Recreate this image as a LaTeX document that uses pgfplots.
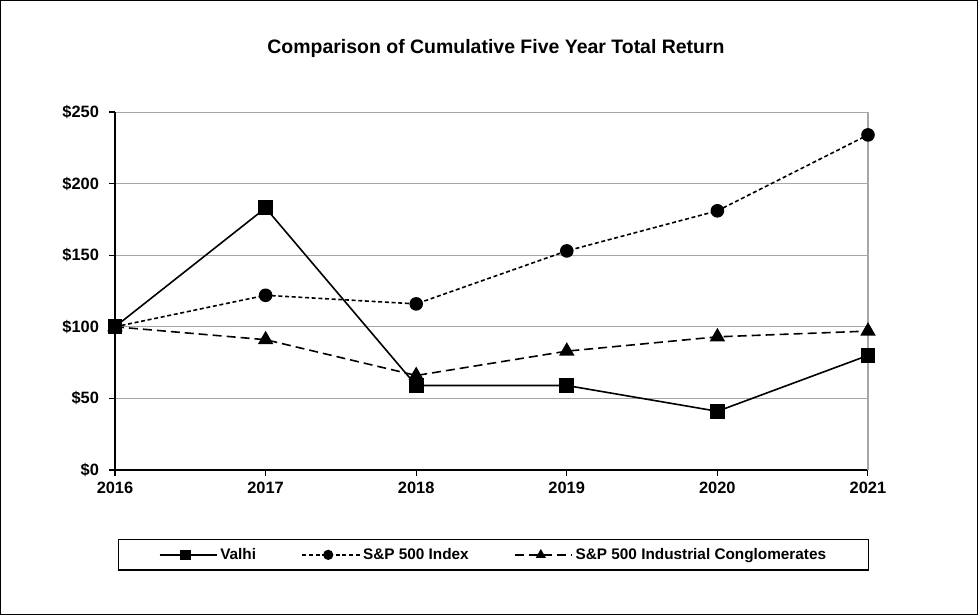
\documentclass[border=0pt]{standalone}
\usepackage{fontspec}
\setmainfont{Liberation Sans}
\usepackage{pgfplots}
\pgfplotsset{compat=1.18}
\begin{document}
\begin{tikzpicture}[x=0.75pt,y=0.75pt]
\useasboundingbox (0,0) rectangle (978,615);
\draw[black, line width=0.75pt] (0.5,0.5) rectangle (977.5,614.5);
\node[font=\bfseries\fontsize{14.6}{17}\selectfont] at (496,566.5) {Comparison of Cumulative Five Year Total Return};
\begin{axis}[
  at={(86.25pt,108.75pt)}, anchor=south west,
  scale only axis, width=564.75pt, height=268.5pt,
  xmin=2016, xmax=2021, ymin=0, ymax=250,
  axis x line=bottom, axis y line=left,
  axis line style={-, line width=1pt, black},
  xtick={2016,...,2021},
  xticklabels={2016,2017,2018,2019,2020,2021},
  ytick={0,50,100,150,200,250},
  yticklabels={\$0,\$50,\$100,\$150,\$200,\$250},
  tick align=outside, major tick length=4.5pt,
  tick style={black, line width=0.8pt},
  ymajorgrids, major grid style={gray!70, line width=0.6pt},
  tick label style={font=\bfseries\fontsize{12.3}{14}\selectfont},
  xticklabel style={yshift=-1pt},
  yticklabel style={xshift=-4pt},
  /pgf/number format/assume math mode=true,
  clip=false,
  legend columns=3,
  legend style={at={(0.503,-0.237)}, anchor=center, draw=black, line width=1pt,
    font=\bfseries\fontsize{11.5}{13}\selectfont, inner xsep=30pt, inner ysep=4.5pt,
    /tikz/every even column/.append style={column sep=32pt}},
  legend cell align=left,
  legend image code/.code={
    \path (0pt,0pt) -- (43pt,0pt);
    \draw[#1] (0pt,0pt) -- (39pt,0pt);
    \draw[#1, solid, mark size=3.2pt] plot coordinates {(19.5pt,0pt)};
  },
]
\draw[gray!70, line width=0.8pt] (axis cs:2021,0) -- (axis cs:2021,250);
\addplot[black, line width=1.2pt, mark=square*, mark size=5pt, mark options={solid}]
  coordinates {(2016,100) (2017,183) (2018,59) (2019,59) (2020,41) (2021,80)};
\addlegendentry{Valhi}
\addplot[black, line width=1.2pt, dash pattern=on 3pt off 2pt, mark=*, mark size=4.5pt, mark options={solid}]
  coordinates {(2016,100) (2017,122) (2018,116) (2019,153) (2020,181) (2021,234)};
\addlegendentry{S\&P 500 Index}
\addplot[black, line width=1.2pt, dash pattern=on 6.75pt off 3.75pt, mark=triangle*, mark size=5.5pt, mark options={solid}]
  coordinates {(2016,100) (2017,91) (2018,66) (2019,83) (2020,93) (2021,97)};
\addlegendentry{S\&P 500 Industrial Conglomerates}
\end{axis}
\end{tikzpicture}
\end{document}
